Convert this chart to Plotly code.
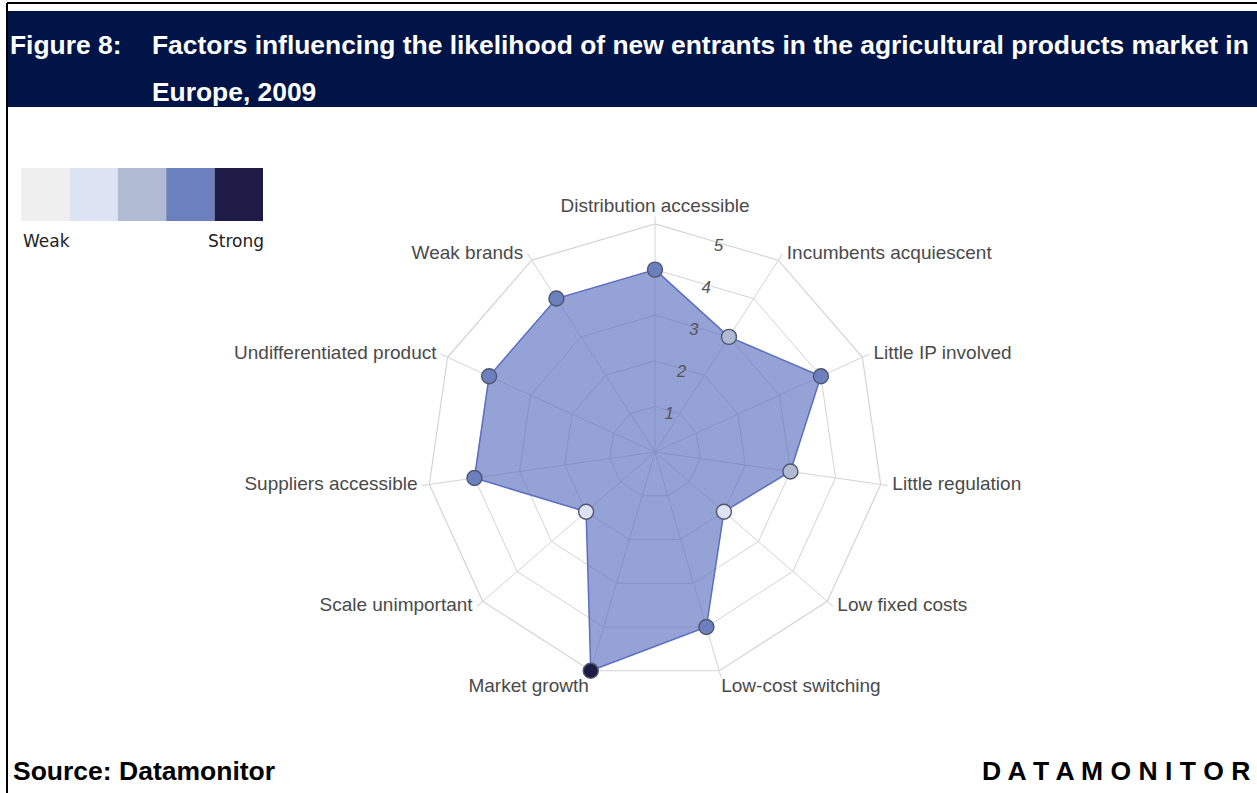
import math
import plotly.graph_objects as go

# ---- data ----
factors = [
    "Distribution accessible",
    "Incumbents acquiescent",
    "Little IP involved",
    "Little regulation",
    "Low fixed costs",
    "Low-cost switching",
    "Market growth",
    "Scale unimportant",
    "Suppliers accessible",
    "Undifferentiated product",
    "Weak brands",
]
scores = [4, 3, 4, 3, 2, 4, 5, 2, 4, 4, 4]
scale_levels = [1, 2, 3, 4, 5]
scale_colors = ["#efefef", "#dce4f4", "#b0bbd3", "#6b80bd", "#1e1b47"]
radial_ticks = [1, 2, 3, 4, 5]
r_max = 5

W, H = 1257, 793


def px(x):
    return x / W


def py(y):
    return 1 - y / H


def square_domain(x_c, y_c, half):
    return dict(x=[px(x_c - half), px(x_c + half)], y=[py(y_c + half), py(y_c - half)])


level_color = dict(zip(scale_levels, scale_colors))
marker_colors = [level_color[s] for s in scores]

n = len(factors)
step = 360 / n
half_step = step / 2

# chart geometry (pixels)
cx, cy, radius = 655, 452, 228
spoke_tick = 7

fig = go.Figure()

# filled polygon with its outline
fig.add_trace(go.Scatterpolar(
    r=scores + [scores[0]],
    theta=factors + [factors[0]],
    mode="lines",
    fill="toself",
    fillcolor="rgba(88,110,190,0.64)",
    line=dict(color="#5a6ec2", width=1.5),
    hoverinfo="skip",
    showlegend=False,
))

# score markers, shaded by strength
fig.add_trace(go.Scatterpolar(
    r=scores,
    theta=factors,
    mode="markers",
    marker=dict(size=15, color=marker_colors,
                line=dict(color="#50566e", width=1.4)),
    showlegend=False,
))

# overlay subplot that only carries the scale numbers, set between two spokes
fig.add_trace(go.Scatterpolar(
    r=scores,
    theta=factors,
    mode="markers",
    marker=dict(size=1, opacity=0),
    hoverinfo="skip",
    showlegend=False,
    subplot="polar2",
))

# factor names, on an overlay whose rim is the end of the spoke ticks
label_pos, label_pad = [], []
for i in range(n):
    a = math.radians(i * step)
    s, c = math.sin(a), math.cos(a)
    vert = "top" if c > 0.9 else ("bottom" if c < -0.9 else "middle")
    horiz = "right" if s > 0.2 else ("left" if s < -0.2 else "center")
    label_pos.append(f"{vert} {horiz}")
    label_pad.append(0 if vert != "middle" else 6)

fig.add_trace(go.Scatterpolar(
    r=[r_max] * n,
    theta=factors,
    mode="markers+text",
    text=factors,
    textposition=label_pos,
    textfont=dict(size=19, color="#4a4a4a"),
    marker=dict(size=label_pad, opacity=0),
    cliponaxis=False,
    hoverinfo="skip",
    showlegend=False,
    subplot="polar3",
))

grid = "#d4d4d4"
# numbers sit on the ring edges; nudge the overlay so each number is centred there
nx, ny = -11.5, -2
label_angle = 90 - half_step

hidden_angular = dict(rotation=90, direction="clockwise", visible=False,
                      showgrid=False, showline=False, showticklabels=False, ticks="")

fig.update_layout(
    width=W, height=H,
    margin=dict(l=0, r=0, t=0, b=0),
    paper_bgcolor="white",
    plot_bgcolor="white",
    font=dict(family="Liberation Sans, Arial, sans-serif"),
    polar=dict(
        domain=square_domain(cx, cy, radius),
        bgcolor="white",
        gridshape="linear",
        angularaxis=dict(
            rotation=90,
            direction="clockwise",
            showline=True,
            linecolor=grid,
            linewidth=1.2,
            gridcolor=grid,
            gridwidth=1.2,
            ticks="outside",
            ticklen=spoke_tick,
            tickcolor=grid,
            showticklabels=False,
            layer="below traces",
        ),
        radialaxis=dict(
            range=[0, r_max],
            tickvals=radial_ticks,
            showline=False,
            showticklabels=False,
            ticks="",
            gridcolor=grid,
            gridwidth=1.2,
            layer="below traces",
        ),
    ),
    polar2=dict(
        domain=square_domain(cx + nx, cy + ny, radius),
        bgcolor="rgba(0,0,0,0)",
        angularaxis=hidden_angular,
        radialaxis=dict(
            range=[0, r_max / math.cos(math.radians(half_step))],
            tickvals=radial_ticks,
            angle=label_angle,
            tickangle=label_angle,
            showline=False,
            showgrid=False,
            ticks="",
            tickfont=dict(size=17, color="#555555", style="italic"),
        ),
    ),
    polar3=dict(
        domain=square_domain(cx, cy, radius + spoke_tick),
        bgcolor="rgba(0,0,0,0)",
        angularaxis=hidden_angular,
        radialaxis=dict(range=[0, r_max], visible=False, showgrid=False,
                        showline=False, showticklabels=False, ticks=""),
    ),
)

shapes = []
# frame lines
shapes.append(dict(type="line", xref="paper", yref="paper",
                   x0=px(7), x1=1, y0=py(3), y1=py(3),
                   line=dict(color="black", width=2)))
shapes.append(dict(type="line", xref="paper", yref="paper",
                   x0=px(7), x1=px(7), y0=py(3), y1=0,
                   line=dict(color="black", width=2)))
# title band
shapes.append(dict(type="rect", xref="paper", yref="paper",
                   x0=px(7), x1=1, y0=py(107), y1=py(11),
                   fillcolor="#011447", line=dict(width=0), layer="below"))
# strength scale swatches
sw_left, sw_w = 21, 48.4
for i, c in enumerate(scale_colors):
    shapes.append(dict(type="rect", xref="paper", yref="paper",
                       x0=px(sw_left + i * sw_w), x1=px(sw_left + (i + 1) * sw_w),
                       y0=py(221), y1=py(168),
                       fillcolor=c, line=dict(width=0)))
fig.update_layout(shapes=shapes)

title_font = dict(family="Liberation Sans, Arial, sans-serif", size=26.4, color="white")
foot_font = dict(family="Liberation Sans, Arial, sans-serif", size=26.5, color="black")
scale_font = dict(family="DejaVu Sans", size=17, color="#222222")
ann = [
    dict(text="<b>Figure 8:</b>", x=px(8), y=py(45), xanchor="left", yanchor="middle",
         font=title_font),
    dict(text="<b>Factors influencing the likelihood of new entrants in the agricultural products market in</b>",
         x=px(150), y=py(45), xanchor="left", yanchor="middle", font=title_font),
    dict(text="<b>Europe, 2009</b>", x=px(150), y=py(92), xanchor="left", yanchor="middle",
         font=title_font),
    dict(text="Weak", x=px(21), y=py(241), xanchor="left", yanchor="middle", font=scale_font),
    dict(text="Strong", x=px(266), y=py(241), xanchor="right", yanchor="middle", font=scale_font),
    dict(text="<b>Source: Datamonitor</b>", x=px(11), y=py(771), xanchor="left", yanchor="middle",
         font=foot_font),
    dict(text="<b>" + " ".join("DATAMONITOR") + "</b>", x=px(1252), y=py(771),
         xanchor="right", yanchor="middle", font=foot_font),
]
for a in ann:
    a.update(xref="paper", yref="paper", showarrow=False)
fig.update_layout(annotations=ann)

fig.write_html("out.html")
